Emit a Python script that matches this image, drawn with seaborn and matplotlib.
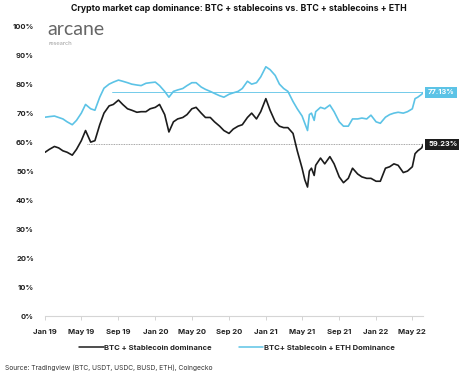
import pandas as pd
import numpy as np
import matplotlib
matplotlib.use('Agg')
import matplotlib.pyplot as plt
import matplotlib.dates as mdates
import seaborn as sns

# semi-monthly readings taken off the reference chart
dates = [
    '2019-01-01', '2019-01-15', '2019-02-01', '2019-02-15', '2019-03-01', '2019-03-15',
    '2019-04-01', '2019-04-15', '2019-05-01', '2019-05-15', '2019-06-01', '2019-06-15',
    '2019-07-01', '2019-07-15', '2019-08-01', '2019-08-15', '2019-09-01', '2019-09-15',
    '2019-10-01', '2019-10-15', '2019-11-01', '2019-11-15', '2019-12-01', '2019-12-15',
    '2020-01-01', '2020-01-15', '2020-02-01', '2020-02-15', '2020-03-01', '2020-03-15',
    '2020-04-01', '2020-04-15', '2020-05-01', '2020-05-15', '2020-06-01', '2020-06-15',
    '2020-07-01', '2020-07-15', '2020-08-01', '2020-08-15', '2020-09-01', '2020-09-15',
    '2020-10-01', '2020-10-15', '2020-11-01', '2020-11-15', '2020-12-01', '2020-12-15',
    '2021-01-01', '2021-01-15', '2021-02-01', '2021-02-15', '2021-03-01', '2021-03-15',
    '2021-04-01', '2021-04-15', '2021-05-01', '2021-05-10', '2021-05-19', '2021-05-25',
    '2021-06-01', '2021-06-10', '2021-06-15', '2021-07-01', '2021-07-15', '2021-08-01',
    '2021-08-15', '2021-09-01', '2021-09-15', '2021-10-01', '2021-10-15', '2021-11-01',
    '2021-11-15', '2021-12-01', '2021-12-15', '2022-01-01', '2022-01-15', '2022-02-01',
    '2022-02-15', '2022-03-01', '2022-03-15', '2022-04-01', '2022-04-15', '2022-05-01',
    '2022-05-10', '2022-05-19', '2022-06-01', '2022-06-06',
]
btc_stable = [
    56.5, 57.5, 58.5, 58.0, 57.0, 56.5, 55.5, 57.5, 60.5, 64.0, 60.0, 60.5,
    66.0, 70.0, 72.5, 73.0, 74.5, 73.0, 71.5, 71.0, 70.3, 70.5, 70.5, 71.5,
    72.0, 73.0, 69.5, 63.5, 67.0, 68.0, 68.5, 69.5, 71.5, 72.0, 70.0, 68.5,
    68.5, 67.0, 65.5, 64.0, 63.0, 64.5, 65.5, 66.0, 68.5, 70.0, 68.0, 70.5,
    75.0, 71.0, 67.0, 65.5, 65.0, 65.0, 63.0, 57.0, 51.0, 47.0, 44.5, 50.0,
    51.0, 48.5, 52.0, 54.5, 52.5, 55.0, 52.5, 48.0, 46.0, 47.5, 51.0, 49.0,
    48.0, 47.5, 47.5, 46.5, 46.5, 51.0, 51.5, 52.5, 52.0, 49.5, 50.0, 51.5,
    56.0, 57.0, 58.0, 59.23,
]
btc_stable_eth = [
    68.6, 68.8, 69.0, 68.5, 68.0, 67.0, 66.0, 67.5, 70.0, 73.0, 71.5, 71.0,
    75.5, 78.6, 80.0, 80.7, 81.4, 81.0, 80.5, 80.0, 79.7, 79.5, 80.3, 80.5,
    80.7, 79.5, 77.5, 75.5, 77.5, 78.0, 78.5, 79.5, 80.5, 80.5, 79.0, 78.2,
    77.5, 76.8, 76.0, 75.5, 76.5, 77.0, 77.5, 78.5, 81.0, 80.0, 80.5, 82.5,
    86.0, 85.0, 83.0, 80.0, 78.5, 77.5, 74.0, 71.5, 69.0, 66.5, 64.0, 69.5,
    70.0, 67.5, 70.5, 72.0, 71.5, 72.8, 70.5, 67.0, 65.5, 65.5, 68.0, 68.0,
    68.3, 68.0, 69.3, 67.0, 66.5, 68.6, 69.5, 70.0, 70.3, 70.0, 70.5, 71.5,
    75.0, 75.5, 76.5, 77.13,
]
series_names = ['BTC + Stablecoin dominance', 'BTC+ Stablecoin + ETH Dominance']
colors = ['#1c1c1c', '#5cc3e6']
tick_dates = pd.date_range('2019-01-01', '2022-05-01', freq='4MS')
y_ticks = list(range(0, 101, 10))

df = pd.DataFrame({'date': pd.to_datetime(dates),
                   series_names[0]: btc_stable,
                   series_names[1]: btc_stable_eth})
long_df = df.melt(id_vars='date', var_name='series', value_name='dominance')

sns.set_theme(style='white')
plt.rcParams['font.family'] = ['Inter', 'DejaVu Sans']

fig = plt.figure(figsize=(4.6, 3.74), dpi=100)
ax = fig.add_axes([0.098, 0.155, 0.822, 0.775])

sns.lineplot(data=long_df, x='date', y='dominance', hue='series',
             hue_order=series_names[::-1], palette=colors[::-1],
             linewidth=1.2, ax=ax, legend=False)

x0 = pd.Timestamp('2019-01-01')
x1 = pd.Timestamp('2022-06-06')
ax.set_xlim(x0, x1)
ax.set_ylim(0, 100)

# last-value reference lines
ax.plot([pd.Timestamp('2019-05-20'), x1], [btc_stable[-1]] * 2,
        color='#888888', lw=0.6, ls=(0, (1, 1)), zorder=1)
ax.plot([pd.Timestamp('2019-08-10'), x1], [btc_stable_eth[-1]] * 2,
        color=colors[1], lw=0.6, zorder=1)

for val, col in [(btc_stable_eth[-1], colors[1]), (btc_stable[-1], colors[0])]:
    ax.annotate(f'{val:.2f}%', xy=(x1, val), xytext=(3.5, 0), textcoords='offset points',
                va='center', ha='left', color='white', fontsize=5.4, fontweight='bold',
                bbox=dict(boxstyle='square,pad=0.35', fc=col, ec='none'),
                annotation_clip=False)

ax.set_yticks(y_ticks)
ax.set_yticklabels([f'{t}%' for t in y_ticks])
ax.set_xticks(tick_dates)
ax.xaxis.set_major_formatter(mdates.DateFormatter('%b %y'))
ax.tick_params(axis='y', length=0, pad=8, labelsize=5.5, labelcolor='#222222')
ax.tick_params(axis='x', length=3, width=0.6, color='#cccccc', pad=6,
               labelsize=5.5, labelcolor='#222222', bottom=True)
for lbl in ax.get_xticklabels() + ax.get_yticklabels():
    lbl.set_fontweight('bold')
ax.set_xlabel('')
ax.set_ylabel('')
sns.despine(ax=ax, left=True)
ax.spines['bottom'].set_color('#d5d5d5')
ax.spines['bottom'].set_linewidth(0.8)

handles = [plt.Line2D([], [], color=c, lw=1.1) for c in colors]
fig.legend(handles, series_names, loc='center', bbox_to_anchor=(0.515, 0.07), ncol=2,
           frameon=False, prop={'size': 5.5, 'weight': 'bold'}, handlelength=3.2,
           handletextpad=0.1, columnspacing=3.5)

fig.text(0.52, 0.978, 'Crypto market cap dominance: BTC + stablecoins vs. BTC + stablecoins + ETH',
         ha='center', va='center', fontsize=6.3, fontweight='bold', color='#111111')
fig.text(0.102, 0.922, 'arcane', ha='left', va='center', fontsize=14,
         fontweight='normal', color='#666666', family=['Lato', 'DejaVu Sans'])
fig.text(0.105, 0.884, 'research', ha='left', va='center', fontsize=4.5,
         color='#a0a0a0', family=['Lato', 'DejaVu Sans'])
fig.text(0.011, 0.018, 'Source: Tradingview (BTC, USDT, USDC, BUSD, ETH), Coingecko',
         ha='left', va='center', fontsize=4.8, color='#333333')

fig.savefig('out.png', dpi=100)
